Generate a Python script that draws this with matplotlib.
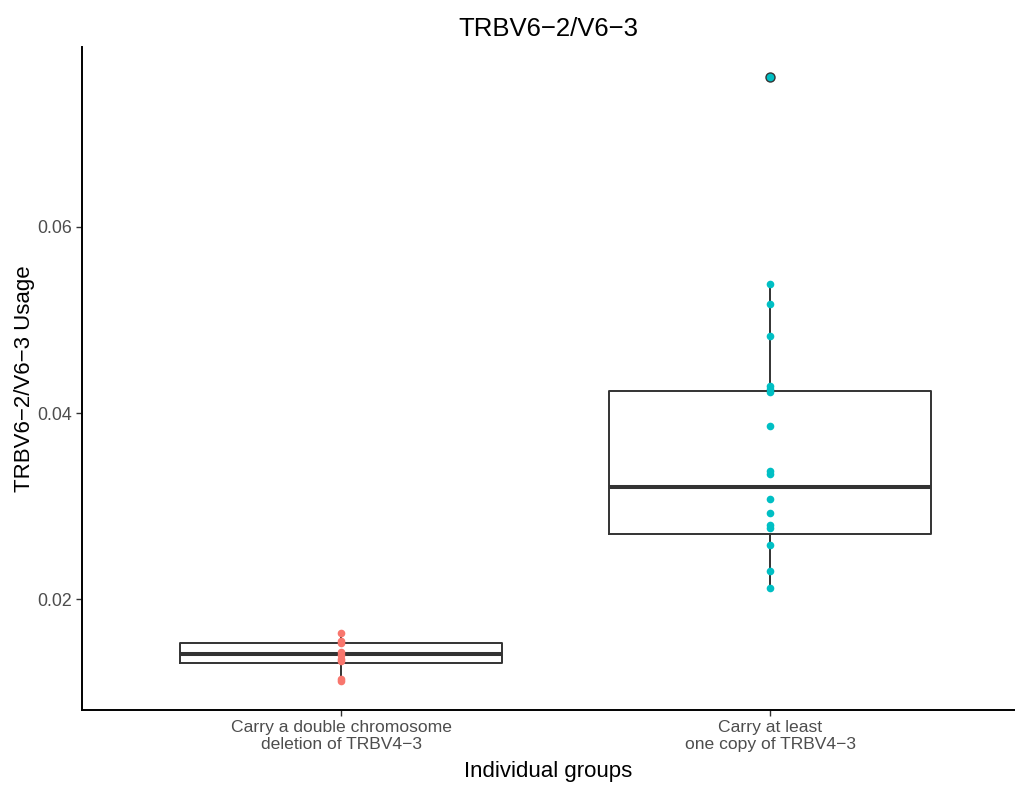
import matplotlib
matplotlib.use("Agg")
import matplotlib.pyplot as plt

plt.rcParams['font.family'] = ['Liberation Sans', 'DejaVu Sans']

# values
groups = ["Carry a double chromosome\ndeletion of TRBV4\u22123",
          "Carry at least\none copy of TRBV4\u22123"]
colors = ["#F8766D", "#00BFC4"]

pts_deletion = [0.01634, 0.01552, 0.01524, 0.01427, 0.01398, 0.01355, 0.01337, 0.01140, 0.01120]
pts_copy = [0.05387, 0.05172, 0.04825, 0.04290, 0.04255, 0.04226, 0.03863, 0.03373,
            0.03344, 0.03072, 0.02922, 0.02792, 0.02760, 0.02581, 0.02301, 0.02122, 0.07608]

# box stats: lower whisker, q1, median, q3, upper whisker
box_whislo = [0.01120, 0.02122]
box_q1 = [0.01308, 0.02699]
box_med = [0.01405, 0.03204]
box_q3 = [0.01530, 0.04237]
box_whishi = [0.01634, 0.05387]
outliers = [[], [0.07608]]

fig = plt.figure(figsize=(10.15, 7.85), dpi=100)
ax = fig.add_axes([82/1015, 75/785, 1 - 82/1015, (710-47)/785])

stats = []
for i in range(2):
    stats.append(dict(whislo=box_whislo[i], q1=box_q1[i], med=box_med[i],
                      q3=box_q3[i], whishi=box_whishi[i], fliers=outliers[i]))

ax.bxp(stats, positions=[1, 2], widths=0.75, showcaps=False,
       boxprops=dict(color="#333333", linewidth=1.4),
       whiskerprops=dict(color="#333333", linewidth=1.4),
       medianprops=dict(color="#333333", linewidth=2.9),
       flierprops=dict(marker="o", markerfacecolor="#333333", markeredgecolor="#333333",
                       markersize=6.5), zorder=2)

for i, pts in enumerate([pts_deletion, pts_copy]):
    ax.plot([i + 1] * len(pts), pts, "o", color=colors[i], markersize=5.5,
            markeredgewidth=0, zorder=3)

ax.set_xlim(0.396, 2.57)
ax.set_ylim(0.00807, 0.07935)
ax.set_xticks([1, 2])
ax.set_xticklabels(groups, fontsize=12.6, color="#4D4D4D", linespacing=1.15)
ax.set_yticks([0.02, 0.04, 0.06])
ax.set_yticklabels(["0.02", "0.04", "0.06"], fontsize=12.8, color="#4D4D4D")
ax.tick_params(length=4, width=1, color="#333333", pad=3)
for s in ["top", "right"]:
    ax.spines[s].set_visible(False)
for s in ["left", "bottom"]:
    ax.spines[s].set_linewidth(1.4)
    ax.spines[s].set_color("black")

ax.set_xlabel("Individual groups", fontsize=16, labelpad=7)
ax.set_ylabel("TRBV6\u22122/V6\u22123 Usage", fontsize=16, labelpad=2)
ax.set_title("TRBV6\u22122/V6\u22123", fontsize=18.5, pad=8)

fig.savefig("out.png", dpi=100)
